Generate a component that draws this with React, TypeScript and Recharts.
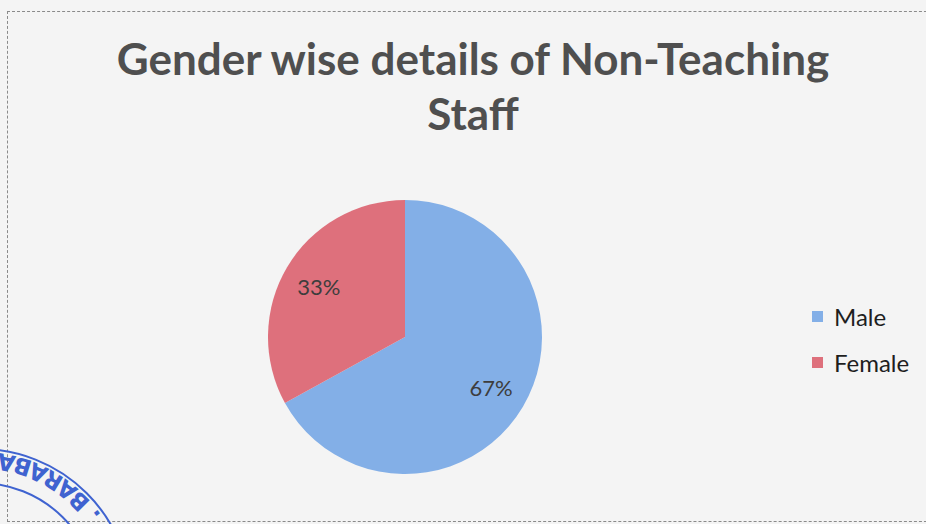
import { PieChart, Pie, Cell, Legend } from 'recharts';

const categories = ['Male', 'Female'];
const shares = [67, 33];
const sliceColors = ['#83AFE7', '#DE707C'];

const data = categories.map((name, i) => ({ name, value: shares[i] }));

const RADIAN = Math.PI / 180;

function renderLabel(props: any) {
  const { cx, cy, midAngle, outerRadius, value } = props;
  const r = outerRadius * 0.73;
  const x = cx + r * Math.cos(-midAngle * RADIAN);
  const y = cy + r * Math.sin(-midAngle * RADIAN);
  return (
    <text
      x={x}
      y={y}
      fill="#3d3d3d"
      textAnchor="middle"
      dominantBaseline="central"
      fontFamily="Lato, 'Open Sans', sans-serif"
      fontSize={22}
    >
      {`${value}%`}
    </text>
  );
}

function LegendContent() {
  return (
    <div style={{ fontFamily: "Lato, 'Open Sans', sans-serif", fontSize: 24, color: '#1e1e1e' }}>
      {categories.map((name, i) => (
        <div key={name} style={{ display: 'flex', alignItems: 'center', height: 46 }}>
          <span
            style={{
              display: 'inline-block',
              width: 11,
              height: 11,
              background: sliceColors[i],
              marginRight: 11,
            }}
          />
          <span>{name}</span>
        </div>
      ))}
    </div>
  );
}

function Stamp() {
  // partial rubber stamp in the lower-left corner of the scan
  const cx = -20;
  const cy = 600;
  const rt = 148;
  const a0 = 35 * RADIAN;
  return (
    <svg
      width={926}
      height={524}
      style={{ position: 'absolute', left: 0, top: 0, pointerEvents: 'none' }}
    >
      <defs>
        <path
          id="stampArc"
          d={`M ${cx + rt * Math.cos(a0)} ${cy - rt * Math.sin(a0)} A ${rt} ${rt} 0 0 0 ${cx - rt} ${cy}`}
        />
      </defs>
      <circle cx={cx} cy={cy} r={151} fill="none" stroke="#3f63d0" strokeWidth={2} />
      <circle cx={cx} cy={cy} r={117} fill="none" stroke="#3f63d0" strokeWidth={2} />
      <text fill="#3f63d0" fontFamily="'DejaVu Sans', sans-serif" fontWeight="bold" fontSize={23}>
        <textPath href="#stampArc" startOffset="0">
          {'. BARABA'}
        </textPath>
      </text>
    </svg>
  );
}

export default function App() {
  return (
    <div
      style={{
        position: 'fixed',
        left: 0,
        top: 0,
        width: 926,
        height: 524,
        background: '#f4f4f4',
        overflow: 'hidden',
      }}
    >
      <div
        style={{
          position: 'absolute',
          left: 7,
          top: 11,
          width: 940,
          height: 511,
          border: '1px dashed #8a8a8a',
          boxSizing: 'border-box',
        }}
      />
      <div
        style={{
          position: 'absolute',
          left: 23,
          width: 900,
          top: 31,
          textAlign: 'center',
          fontFamily: "Lato, 'Open Sans', sans-serif",
          fontWeight: 'bold',
          fontSize: 44,
          lineHeight: '55px',
          color: '#4f4f4f',
        }}
      >
        Gender wise details of Non-Teaching
        <br />
        Staff
      </div>
      <div style={{ position: 'absolute', left: 0, top: 0 }}>
        <PieChart width={926} height={524} margin={{ top: 0, right: 0, bottom: 0, left: 0 }}>
          <Pie
            data={data}
            dataKey="value"
            nameKey="name"
            cx={405}
            cy={337}
            outerRadius={137}
            startAngle={90}
            endAngle={-270}
            stroke="none"
            label={renderLabel}
            labelLine={false}
            isAnimationActive={false}
          >
            {data.map((_, i) => (
              <Cell key={`cell-${i}`} fill={sliceColors[i]} />
            ))}
          </Pie>
          <Legend
            content={<LegendContent />}
            wrapperStyle={{ left: 812, top: 293, width: 120, bottom: 'auto' }}
          />
        </PieChart>
      </div>
      <Stamp />
    </div>
  );
}
